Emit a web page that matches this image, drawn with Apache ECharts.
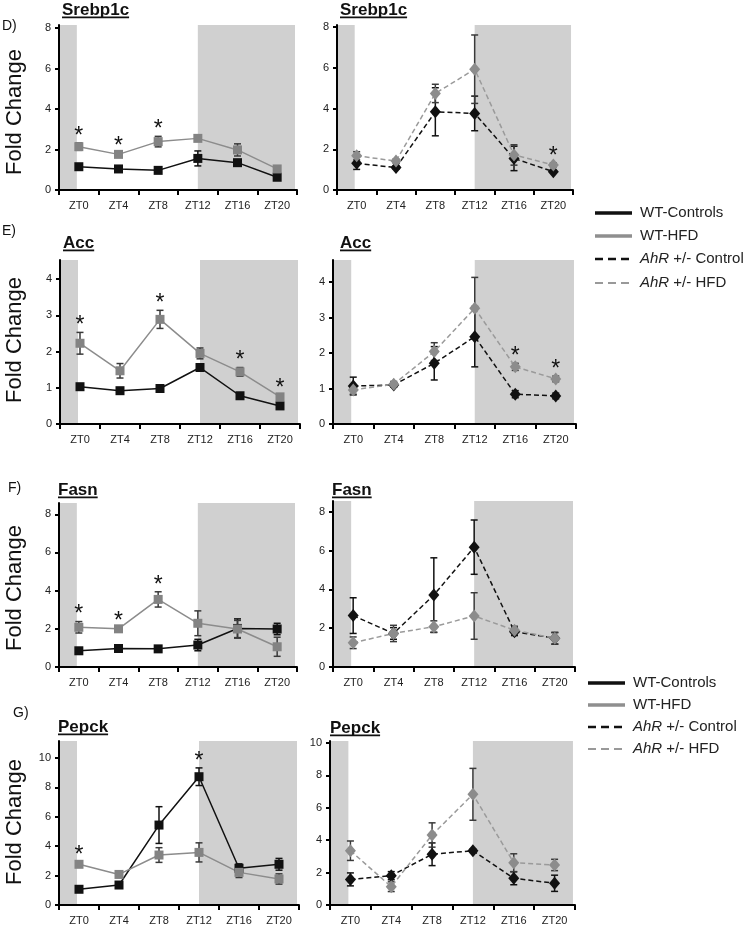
<!DOCTYPE html>
<html><head><meta charset="utf-8">
<script src="https://cdn.jsdelivr.net/npm/echarts@6/dist/echarts.min.js"></script>
<style>html,body{margin:0;padding:0;background:#fff}#c{width:746px;height:933px}</style>
</head><body><div id="c"></div>
<script>
// ---------- DATA ----------
const categories = ['ZT0', 'ZT4', 'ZT8', 'ZT12', 'ZT16', 'ZT20'];
const darkPhaseZT = [[-1.9, -0.2], [12, 21.8]];
const legendNames = ['WT-Controls', 'WT-HFD', 'AhR +/- Control', 'AhR +/- HFD'];
const genes = ['Srebp1c', 'Acc', 'Fasn', 'Pepck'];
const panelLetters = ['D)', 'E)', 'F)', 'G)'];
const yAxisTitle = 'Fold Change';

const srebpTicks = [0, 2, 4, 6, 8];
const accTicks = [0, 1, 2, 3, 4];
const fasnTicks = [0, 2, 4, 6, 8];
const pepckTicks = [0, 2, 4, 6, 8, 10];

// Srebp1c
const srebpWtCtrl = [1.15, 1.04, 0.97, 1.56, 1.35, 0.63];
const srebpWtCtrlErr = [0.08, 0.06, 0.06, 0.37, 0.12, 0.06];
const srebpWtHfd = [2.14, 1.76, 2.39, 2.55, 1.98, 1.04];
const srebpWtHfdErr = [0.18, 0.08, 0.26, 0.10, 0.30, 0.08];
const srebpAhrCtrl = [1.31, 1.10, 3.84, 3.76, 1.55, 0.90];
const srebpAhrCtrlErr = [0.30, 0.08, 1.18, 0.85, 0.60, 0.06];
const srebpAhrHfd = [1.68, 1.42, 4.74, 5.93, 1.72, 1.23];
const srebpAhrHfdErr = [0.20, 0.10, 0.45, 1.68, 0.50, 0.10];
const srebpWtStars = [0, 1, 2];
const srebpAhrStars = [5];

// Acc
const accWtCtrl = [1.03, 0.92, 0.98, 1.56, 0.78, 0.50];
const accWtCtrlErr = [0.05, 0.07, 0.04, 0.05, 0.05, 0.05];
const accWtHfd = [2.23, 1.47, 2.89, 1.95, 1.44, 0.75];
const accWtHfdErr = [0.30, 0.20, 0.25, 0.15, 0.12, 0.06];
const accAhrCtrl = [1.07, 1.10, 1.71, 2.46, 0.84, 0.79];
const accAhrCtrlErr = [0.25, 0.05, 0.47, 0.85, 0.10, 0.08];
const accAhrHfd = [0.96, 1.12, 2.04, 3.26, 1.61, 1.27];
const accAhrHfdErr = [0.12, 0.08, 0.25, 0.87, 0.10, 0.08];
const accWtStars = [0, 2, 4, 5];
const accAhrStars = [4, 5];

// Fasn
const fasnWtCtrl = [0.85, 0.97, 0.95, 1.15, 2.02, 1.99];
const fasnWtCtrlErr = [0.12, 0.15, 0.15, 0.30, 0.50, 0.30];
const fasnWtHfd = [2.08, 2.00, 3.54, 2.29, 1.99, 1.06];
const fasnWtHfdErr = [0.30, 0.05, 0.40, 0.65, 0.45, 0.50];
const fasnAhrCtrl = [2.65, 1.73, 3.71, 6.18, 1.82, 1.48];
const fasnAhrCtrlErr = [0.92, 0.30, 1.92, 1.40, 0.20, 0.30];
const fasnAhrHfd = [1.25, 1.73, 2.08, 2.63, 1.90, 1.48];
const fasnAhrHfdErr = [0.30, 0.42, 0.30, 1.20, 0.20, 0.30];
const fasnWtStars = [0, 1, 2];
const fasnAhrStars = [];

// Pepck
const pepckWtCtrl = [1.07, 1.36, 5.44, 8.73, 2.50, 2.77];
const pepckWtCtrlErr = [0.10, 0.10, 1.25, 0.60, 0.30, 0.40];
const pepckWtHfd = [2.77, 2.08, 3.40, 3.58, 2.22, 1.77];
const pepckWtHfdErr = [0.15, 0.20, 0.50, 0.65, 0.35, 0.35];
const pepckAhrCtrl = [1.58, 1.81, 3.13, 3.35, 1.65, 1.34];
const pepckAhrCtrlErr = [0.40, 0.25, 0.70, 0.10, 0.40, 0.50];
const pepckAhrHfd = [3.35, 1.13, 4.32, 6.83, 2.61, 2.47];
const pepckAhrHfdErr = [0.60, 0.30, 0.75, 1.60, 0.55, 0.35];
const pepckWtStars = [0, 3];
const pepckAhrStars = [];

// ---------- ASSEMBLY ----------
const panelData = [
  { lines: [[srebpWtCtrl, srebpWtCtrlErr, 0], [srebpWtHfd, srebpWtHfdErr, 1]], stars: srebpWtStars, ticks: srebpTicks },
  { lines: [[srebpAhrCtrl, srebpAhrCtrlErr, 2], [srebpAhrHfd, srebpAhrHfdErr, 3]], stars: srebpAhrStars, ticks: srebpTicks },
  { lines: [[accWtCtrl, accWtCtrlErr, 0], [accWtHfd, accWtHfdErr, 1]], stars: accWtStars, ticks: accTicks },
  { lines: [[accAhrCtrl, accAhrCtrlErr, 2], [accAhrHfd, accAhrHfdErr, 3]], stars: accAhrStars, ticks: accTicks },
  { lines: [[fasnWtCtrl, fasnWtCtrlErr, 0], [fasnWtHfd, fasnWtHfdErr, 1]], stars: fasnWtStars, ticks: fasnTicks },
  { lines: [[fasnAhrCtrl, fasnAhrCtrlErr, 2], [fasnAhrHfd, fasnAhrHfdErr, 3]], stars: fasnAhrStars, ticks: fasnTicks },
  { lines: [[pepckWtCtrl, pepckWtCtrlErr, 0], [pepckWtHfd, pepckWtHfdErr, 1]], stars: pepckWtStars, ticks: pepckTicks },
  { lines: [[pepckAhrCtrl, pepckAhrCtrlErr, 2], [pepckAhrHfd, pepckAhrHfdErr, 3]], stars: pepckAhrStars, ticks: pepckTicks }
];

const layout = [
  { left: 59, top: 25, width: 238, height: 165, yMax: 8.15, step: 2, tx: 62, ty: 10 },
  { left: 337, top: 25, width: 236, height: 165, yMax: 8.1, step: 2, tx: 340, ty: 10 },
  { left: 60, top: 260, width: 240, height: 164, yMax: 4.53, step: 1, tx: 63, ty: 243 },
  { left: 333, top: 260, width: 243, height: 164, yMax: 4.62, step: 1, tx: 340, ty: 243 },
  { left: 59, top: 503, width: 238, height: 164, yMax: 8.59, step: 2, tx: 58, ty: 490 },
  { left: 333, top: 501, width: 242, height: 166, yMax: 8.56, step: 2, tx: 332, ty: 490 },
  { left: 59, top: 741, width: 240, height: 164, yMax: 11.16, step: 2, tx: 58, ty: 727 },
  { left: 330, top: 741, width: 245, height: 164, yMax: 10.12, step: 2, tx: 330, ty: 728 }
];

const groupStyles = [
  { color: '#111', line: '#111', type: 'solid', symbol: 'rect', size: 9, err: '#111' },
  { color: '#838383', line: '#8c8c8c', type: 'solid', symbol: 'rect', size: 9, err: '#3a3a3a' },
  { color: '#111', line: '#111', type: [5, 3], symbol: 'diamond', size: [11, 13], err: '#111' },
  { color: '#8c8c8c', line: '#9a9a9a', type: [5, 3], symbol: 'diamond', size: [11, 13], err: '#3a3a3a' }
];
const legendStyles = [
  { stroke: '#111', w: 3.5, dash: null },
  { stroke: '#8f8f8f', w: 3.5, dash: null },
  { stroke: '#111', w: 2.5, dash: [8, 5] },
  { stroke: '#999', w: 2, dash: [8, 5] }
];

const FONT = 'Liberation Sans';
const grids = [], xAxes = [], yAxes = [], series = [], graphics = [];
const mctx = document.createElement('canvas').getContext('2d');
mctx.font = 'bold 17px "' + FONT + '"';

layout.forEach((L, p) => {
  const D = panelData[p];
  grids.push({ left: L.left, top: L.top, width: L.width, height: L.height });
  xAxes.push({
    type: 'category', gridIndex: p, data: categories, boundaryGap: true, z: 5,
    axisLine: { onZero: false, lineStyle: { color: '#000', width: 2 } },
    axisTick: { show: true, length: 5, lineStyle: { color: '#000', width: 2 } },
    axisLabel: { color: '#222', fontSize: 11, fontFamily: FONT, margin: 10 },
    splitLine: { show: false }
  });
  xAxes.push({ type: 'value', gridIndex: p, min: -2, max: 22, show: false, axisLine: { onZero: false } });
  yAxes.push({
    type: 'value', gridIndex: p, min: 0, max: L.yMax, interval: L.step, z: 5,
    axisLine: { show: true, onZero: false, lineStyle: { color: '#000', width: 2 } },
    axisTick: { show: true, length: 4, lineStyle: { color: '#000', width: 2 }, customValues: D.ticks },
    axisLabel: { color: '#222', fontSize: 11, fontFamily: FONT, margin: 8, customValues: D.ticks },
    splitLine: { show: false }
  });
  // dark phase shading
  series.push({
    type: 'custom', xAxisIndex: 2 * p + 1, yAxisIndex: p, z: 1, silent: true,
    data: darkPhaseZT, encode: { x: [0, 1] },
    renderItem: (params, api) => {
      const a = api.coord([api.value(0), 0]);
      const b = api.coord([api.value(1), 0]);
      const cs = params.coordSys;
      return { type: 'rect', shape: { x: a[0], y: cs.y, width: b[0] - a[0], height: cs.height },
        style: { fill: '#d0d0d0' } };
    }
  });
  // error bars
  D.lines.forEach(([vals, errs, g]) => {
    const st = groupStyles[g];
    series.push({
      type: 'custom', xAxisIndex: 2 * p, yAxisIndex: p, z: 2, silent: true,
      data: vals.map((v, i) => [i, v - errs[i], v + errs[i]]),
      encode: { x: 0, y: [1, 2] },
      renderItem: (params, api) => {
        const lo = api.coord([api.value(0), api.value(1)]);
        const hi = api.coord([api.value(0), api.value(2)]);
        const hw = 3.5, s = { stroke: st.err, lineWidth: 1.5 };
        return { type: 'group', children: [
          { type: 'line', shape: { x1: hi[0], y1: hi[1], x2: lo[0], y2: lo[1] }, style: s },
          { type: 'line', shape: { x1: hi[0] - hw, y1: hi[1], x2: hi[0] + hw, y2: hi[1] }, style: s },
          { type: 'line', shape: { x1: lo[0] - hw, y1: lo[1], x2: lo[0] + hw, y2: lo[1] }, style: s }
        ] };
      }
    });
  });
  // lines
  D.lines.forEach(([vals, errs, g]) => {
    const st = groupStyles[g];
    series.push({
      type: 'line', name: legendNames[g], xAxisIndex: 2 * p, yAxisIndex: p, z: 3,
      data: vals, symbol: st.symbol, symbolSize: st.size, showSymbol: true,
      lineStyle: { color: st.line, width: 1.5, type: st.type },
      itemStyle: { color: st.color, borderWidth: 0 }, silent: true
    });
  });
  // significance stars
  if (D.stars.length) {
    series.push({
      type: 'custom', xAxisIndex: 2 * p, yAxisIndex: p, z: 6, silent: true,
      data: D.stars.map(i => [i, Math.max(...D.lines.map(l => l[0][i] + l[1][i]))]),
      encode: { x: 0, y: 1 },
      renderItem: (params, api) => {
        const pt = api.coord([api.value(0), api.value(1)]);
        return { type: 'text', x: pt[0], y: pt[1] + 5,
          style: { text: '*', fill: '#111', fontSize: 23, fontFamily: FONT, align: 'center', verticalAlign: 'bottom' } };
      }
    });
  }
  // title with underline
  const gene = genes[Math.floor(p / 2)];
  const tw = mctx.measureText(gene).width;
  graphics.push({ type: 'text', x: L.tx, y: L.ty, style: { text: gene, fill: '#111', fontSize: 17, fontWeight: 'bold', fontFamily: FONT, align: 'left', verticalAlign: 'middle' } });
  graphics.push({ type: 'rect', shape: { x: L.tx, y: L.ty + 6.5, width: tw, height: 1.8 }, style: { fill: '#111' } });
});

// panel letters and y-axis titles
const letterPos = [[2, 26], [2, 231], [8, 488], [13, 713]];
const yTitleY = [112, 340, 588, 822];
panelLetters.forEach((t, r) => {
  graphics.push({ type: 'text', x: letterPos[r][0], y: letterPos[r][1], style: { text: t, fill: '#111', fontSize: 14, fontFamily: FONT, align: 'left', verticalAlign: 'middle' } });
  graphics.push({ type: 'text', x: 15, y: yTitleY[r], rotation: Math.PI / 2, style: { text: yAxisTitle, fill: '#111', fontSize: 22, fontFamily: FONT, align: 'center', verticalAlign: 'middle' } });
});

// legends
const legendBlocks = [{ x: 595, ys: [213, 236, 259, 283] }, { x: 588, ys: [683, 705, 727, 749] }];
legendBlocks.forEach(B => {
  legendNames.forEach((name, k) => {
    const ls = legendStyles[k];
    graphics.push({ type: 'line', shape: { x1: B.x, y1: B.ys[k], x2: B.x + 37, y2: B.ys[k] },
      style: { stroke: ls.stroke, lineWidth: ls.w, lineDash: ls.dash } });
    const isAhr = name.indexOf('AhR') === 0;
    graphics.push({ type: 'text', x: B.x + 45, y: B.ys[k],
      style: { text: isAhr ? '{i|AhR}' + name.slice(3) : name, fill: '#222', fontSize: 15, fontFamily: FONT,
        align: 'left', verticalAlign: 'middle',
        rich: { i: { fontStyle: 'italic', fontSize: 15, fontFamily: FONT, fill: '#222' } } } });
  });
});

const chart = echarts.init(document.getElementById('c'), null, { renderer: 'canvas', width: 746, height: 933 });
chart.setOption({
  animation: false,
  backgroundColor: '#fff',
  grid: grids, xAxis: xAxes, yAxis: yAxes, series: series, graphic: graphics
});
</script></body></html>
